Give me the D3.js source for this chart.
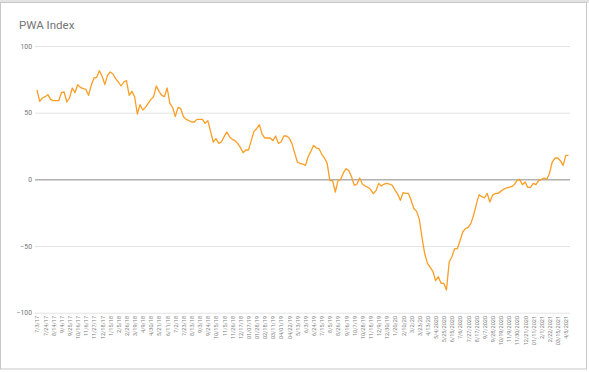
<!DOCTYPE html>
<html>
<head>
<meta charset="utf-8">
<script src="https://cdn.jsdelivr.net/npm/d3@7"></script>
<style>
  body { margin: 0; background: #fff; }
  svg { display: block; font-family: Roboto, "Noto Sans", Arial, sans-serif; }
</style>
</head>
<body>
<svg id="chart" width="589" height="372"></svg>
<script>
// weekly index values, 7/3/17 .. 4/12/2021
var values = [
  67, 58.5, 61, 62, 63.5, 60, 59, 59, 59, 65,
  65.5, 58, 61, 68.5, 65, 71, 69, 68, 67.5, 63,
  70.5, 76, 76.5, 81.5, 77.5, 71, 78, 80.5, 79, 75.5,
  73, 70, 73, 74, 63, 66, 62, 49, 56, 52,
  54, 57, 60, 62, 70, 66, 63, 62, 68.5, 57,
  54, 47, 54, 53, 47, 45, 44, 43, 43, 45,
  45, 45, 42, 44, 36, 28, 30.5, 27, 28, 32,
  35.5, 32, 30, 29, 27, 24, 20, 22, 22, 29,
  36, 38, 41, 34, 31, 31, 31, 29, 32.5, 27,
  28, 32.5, 32.5, 31, 27, 20, 13, 12, 11.5, 10.5,
  17, 21, 25.5, 23.5, 23, 19, 16, 12, -1, -1,
  -9.5, -1, 0, 5, 8, 6.5, 2, -4.5, -3.5, 1,
  -3.5, -5, -6, -7.5, -10.7, -8.5, -3, -5, -3.5, -3,
  -3.5, -4.5, -8, -11, -15.7, -10, -10.5, -10.5, -16, -22,
  -24, -30, -44, -56, -63, -66, -69, -76, -73, -78,
  -78, -83, -62, -58, -52, -52, -46, -39.5, -37, -36,
  -33, -27, -19, -11.5, -13, -14, -10.5, -17, -12, -10.5,
  -10.5, -9, -7.5, -6.5, -6, -5.5, -4, -1, 0, -4,
  -2, -6, -6, -3, -4, -1, 0, 1, 0, 4.5,
  13, 16, 16, 14, 10.5, 18, 18
];

// every third week gets a label
var tickLabels = [
  "7/3/17", "7/24/17", "8/14/17", "9/4/17", "9/25/17", "10/16/17", "11/6/17",
  "11/27/17", "12/18/17", "1/15/18", "2/5/18", "2/26/18", "3/19/18", "4/9/18",
  "4/30/18", "5/21/18", "6/11/18", "7/2/18", "7/23/18", "8/13/18", "9/3/18",
  "9/24/18", "10/15/18", "11/5/18", "11/26/18", "12/17/18", "01/07/19", "01/28/19",
  "02/18/19", "03/11/19", "04/01/19", "04/22/19", "5/13/19", "6/3/19", "6/24/19",
  "7/15/19", "8/5/19", "8/26/19", "9/16/19", "10/7/19", "10/28/19", "11/18/19",
  "12/9/19", "12/30/19", "1/20/20", "2/10/20", "3/2/20", "3/23/20", "4/13/20",
  "5/4/2020", "5/25/2020", "6/15/2020", "7/6/2020", "7/27/2020", "8/17/2020",
  "9/7/2020", "9/28/2020", "10/19/2020", "11/9/2020", "11/30/2020", "12/21/2020",
  "01/11/2021", "2/1/2021", "2/22/2021", "03/15/2021", "4/5/2021"
];
var yTicks = [-100, -50, 0, 50, 100];
var title = "PWA Index";

var svg = d3.select("#chart");

// outer frame like the sheet screenshot
svg.append("rect").attr("x", 0).attr("y", 0).attr("width", 589).attr("height", 3).attr("fill", "#e3e3e3");
svg.append("rect").attr("x", 0.5).attr("y", 2.5).attr("width", 586).attr("height", 366.5)
  .attr("fill", "none").attr("stroke", "#c8c8c8");

var x = d3.scaleLinear().domain([0, values.length - 1]).range([37, 568.5]);
var y = d3.scaleLinear().domain([-100, 100]).range([312.7, 46]);
var gridLeft = 35, gridRight = 570;

svg.append("text")
  .attr("x", 19).attr("y", 29)
  .attr("font-size", 11.5).attr("fill", "#757575")
  .text(title);

// y grid + labels
var yAxis = d3.axisLeft(y).tickValues(yTicks).tickSize(-(gridRight - gridLeft)).tickPadding(3);
var gy = svg.append("g").attr("transform", `translate(${gridLeft},0)`).call(yAxis);
gy.select(".domain").remove();
gy.selectAll(".tick line")
  .attr("stroke", d => d === 0 ? "#8a8a8a" : "#e4e4e4")
  .attr("stroke-width", 1);
gy.selectAll(".tick text")
  .attr("font-size", 6.8).attr("fill", "#757575")
  .attr("font-family", "Roboto, sans-serif");

// x labels, rotated
var xIdx = tickLabels.map((d, i) => i * 3);
var xAxis = d3.axisBottom(x).tickValues(xIdx).tickSize(0).tickPadding(0)
  .tickFormat((d, i) => tickLabels[i]);
var gx = svg.append("g").attr("transform", "translate(0,316)").call(xAxis);
gx.select(".domain").remove();
gx.selectAll(".tick text")
  .attr("font-size", 5.5).attr("fill", "#808080")
  .attr("font-family", "Roboto, sans-serif")
  .attr("text-anchor", "end")
  .attr("transform", "rotate(-90)")
  .attr("x", 0).attr("y", 0).attr("dy", "0.35em");

var line = d3.line().x((d, i) => x(i)).y(d => y(d));
svg.append("path")
  .datum(values)
  .attr("d", line)
  .attr("fill", "none")
  .attr("stroke", "#fb9e25")
  .attr("stroke-width", 1.3)
  .attr("stroke-linejoin", "round");
</script>
</body>
</html>
